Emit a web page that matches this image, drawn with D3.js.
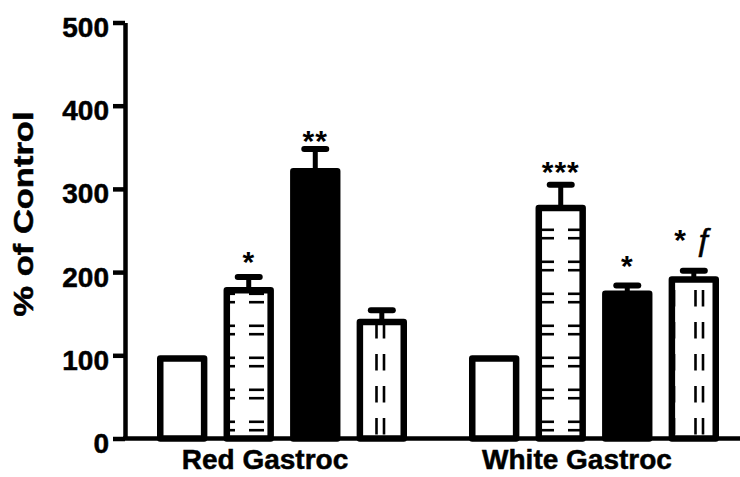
<!DOCTYPE html>
<html>
<head>
<meta charset="utf-8">
<script src="https://cdn.jsdelivr.net/npm/d3@7"></script>
<style>
  html, body { margin: 0; padding: 0; background: #fff; }
  svg { display: block; }
  text { font-family: "Liberation Sans", Arial, sans-serif; fill: #000; }
  .heavy { stroke: #000; stroke-width: 0.5px; }
</style>
</head>
<body>
<svg id="chart" width="740" height="477"></svg>
<script>
// ---- data (% of control, mean and SEM) ----
const tissues = ["Red Gastroc", "White Gastroc"];
const treatments = ["Control", "Treatment A", "Treatment B", "Treatment C"];
const redMean = [100, 182, 325, 144];
const redSem = [0, 12, 23, 10];
const whiteMean = [100, 281, 178, 195];
const whiteSem = [0, 24, 6, 6.5];
// significance marks and the value (% of control) their baseline sits at
const redMarks = ["", "*", "**", ""];
const whiteMarks = ["", "***", "*", "* \u0192"];
const redMarkAt = [null, 200, 346, null];
const whiteMarkAt = [null, 308, 195, 226];
const yTicks = [0, 100, 200, 300, 400, 500];

const rows = [];
tissues.forEach((t, gi) => {
  const mean = gi === 0 ? redMean : whiteMean;
  const sem = gi === 0 ? redSem : whiteSem;
  const marks = gi === 0 ? redMarks : whiteMarks;
  const at = gi === 0 ? redMarkAt : whiteMarkAt;
  treatments.forEach((s, si) => {
    rows.push({ tissue: t, treatment: s, si, mean: mean[si], sem: sem[si], mark: marks[si], markAt: at[si] });
  });
});

// ---- layout ----
const svg = d3.select("#chart");
const x0 = d3.scaleBand().domain(tissues).range([157, 719]).paddingInner(0.1987).paddingOuter(0);
const x1 = d3.scaleBand().domain(treatments).range([0, x0.bandwidth()]).paddingInner(0.243).paddingOuter(0);
const y = d3.scaleLinear().domain([0, 500]).range([438.5, 22.5]);

const SW = 6.5; // bar outline width

// fill patterns
const defs = svg.append("defs");
const hp = defs.append("pattern").attr("id", "hdash").attr("patternUnits", "userSpaceOnUse")
  .attr("x", 17).attr("y", 0).attr("width", 29).attr("height", 32);
hp.append("rect").attr("width", 29).attr("height", 32).attr("fill", "#fff");
[5.8, 14.2].forEach(yy => hp.append("line").attr("x1", 0).attr("x2", 15).attr("y1", yy).attr("y2", yy)
  .attr("stroke", "#000").attr("stroke-width", 2.6));

const vp = defs.append("pattern").attr("id", "vdash").attr("patternUnits", "userSpaceOnUse")
  .attr("x", 27).attr("y", 2).attr("width", 29).attr("height", 32);
vp.append("rect").attr("width", 29).attr("height", 32).attr("fill", "#fff");
[1.5, 9].forEach(xx => vp.append("line").attr("x1", xx).attr("x2", xx).attr("y1", 0).attr("y2", 16.5)
  .attr("stroke", "#000").attr("stroke-width", 2.6));

const fills = ["#fff", "url(#hdash)", "#000", "url(#vdash)"];

// ---- error bars ----
const errs = svg.append("g");
rows.filter(d => d.sem > 0).forEach(d => {
  const cx = x0(d.tissue) + x1(d.treatment) + x1.bandwidth() / 2;
  errs.append("line").attr("x1", cx).attr("x2", cx).attr("y1", y(d.mean) + 2).attr("y2", y(d.mean + d.sem))
    .attr("stroke", "#000").attr("stroke-width", 5);
  errs.append("line").attr("x1", cx - 11).attr("x2", cx + 11).attr("y1", y(d.mean + d.sem)).attr("y2", y(d.mean + d.sem))
    .attr("stroke", "#000").attr("stroke-width", 6).attr("stroke-linecap", "round");
});

// ---- bars (outline drawn inside the bar extent) ----
svg.append("g").selectAll("rect").data(rows).join("rect")
  .attr("x", d => x0(d.tissue) + x1(d.treatment) + SW / 2)
  .attr("y", d => y(d.mean) + SW / 2)
  .attr("width", x1.bandwidth() - SW)
  .attr("height", d => y(0) - y(d.mean) - SW / 2)
  .attr("fill", d => fills[d.si])
  .attr("stroke", "#000")
  .attr("stroke-width", SW)
  .attr("stroke-linejoin", "round");

// ---- significance marks: asterisks in bold, the ƒ symbol in regular weight ----
const marks = svg.append("g").selectAll("text").data(rows.filter(d => d.mark)).join("text")
  .attr("x", d => x0(d.tissue) + x1(d.treatment) + x1.bandwidth() / 2)
  .attr("y", d => y(d.markAt))
  .attr("text-anchor", "middle")
  .style("font-size", "30px");
marks.each(function (d) {
  const t = d3.select(this);
  d.mark.split(" ").forEach((part, i) => {
    const isStar = /^\*+$/.test(part);
    t.append("tspan")
      .text((i > 0 ? " " : "") + part)
      .style("font-weight", isStar ? "bold" : "normal")
      .style("font-size", isStar ? "30px" : "32px")
      .style("stroke", isStar ? "none" : "#000")
      .style("stroke-width", isStar ? 0 : 0.6)
      .style("letter-spacing", isStar ? "1px" : "0px");
  });
});

// ---- axes ----
const yAxis = svg.append("g").attr("transform", "translate(125,0)")
  .call(d3.axisLeft(y).tickValues(yTicks).tickSize(12).tickSizeOuter(0).tickPadding(4));
yAxis.select(".domain").attr("stroke", "#000").attr("stroke-width", 4.5);
yAxis.selectAll(".tick line").attr("stroke", "#000").attr("stroke-width", 4.5);
yAxis.selectAll(".tick text").attr("dy", "0.5em").attr("class", "heavy")
  .style("font-size", "28px").style("font-weight", "bold").style("font-family", "'Liberation Sans', Arial, sans-serif");

const xAxis = svg.append("g").attr("transform", `translate(0,${y(0)})`)
  .call(d3.axisBottom(x0).tickSize(0).tickPadding(10.5));
xAxis.select(".domain").attr("stroke", "#000").attr("stroke-width", 4.5).attr("d", "M123,0H740");
xAxis.selectAll(".tick text").attr("dy", "0.71em").attr("x", -17).attr("class", "heavy")
  .style("font-size", "28px").style("font-weight", "bold").style("font-family", "'Liberation Sans', Arial, sans-serif");

// axis title
svg.append("text")
  .attr("class", "heavy")
  .attr("transform", "translate(33,214) rotate(-90)")
  .attr("text-anchor", "middle")
  .attr("textLength", 205).attr("lengthAdjust", "spacingAndGlyphs")
  .style("font-size", "28px").style("font-weight", "bold")
  .text("% of Control");
</script>
</body>
</html>
